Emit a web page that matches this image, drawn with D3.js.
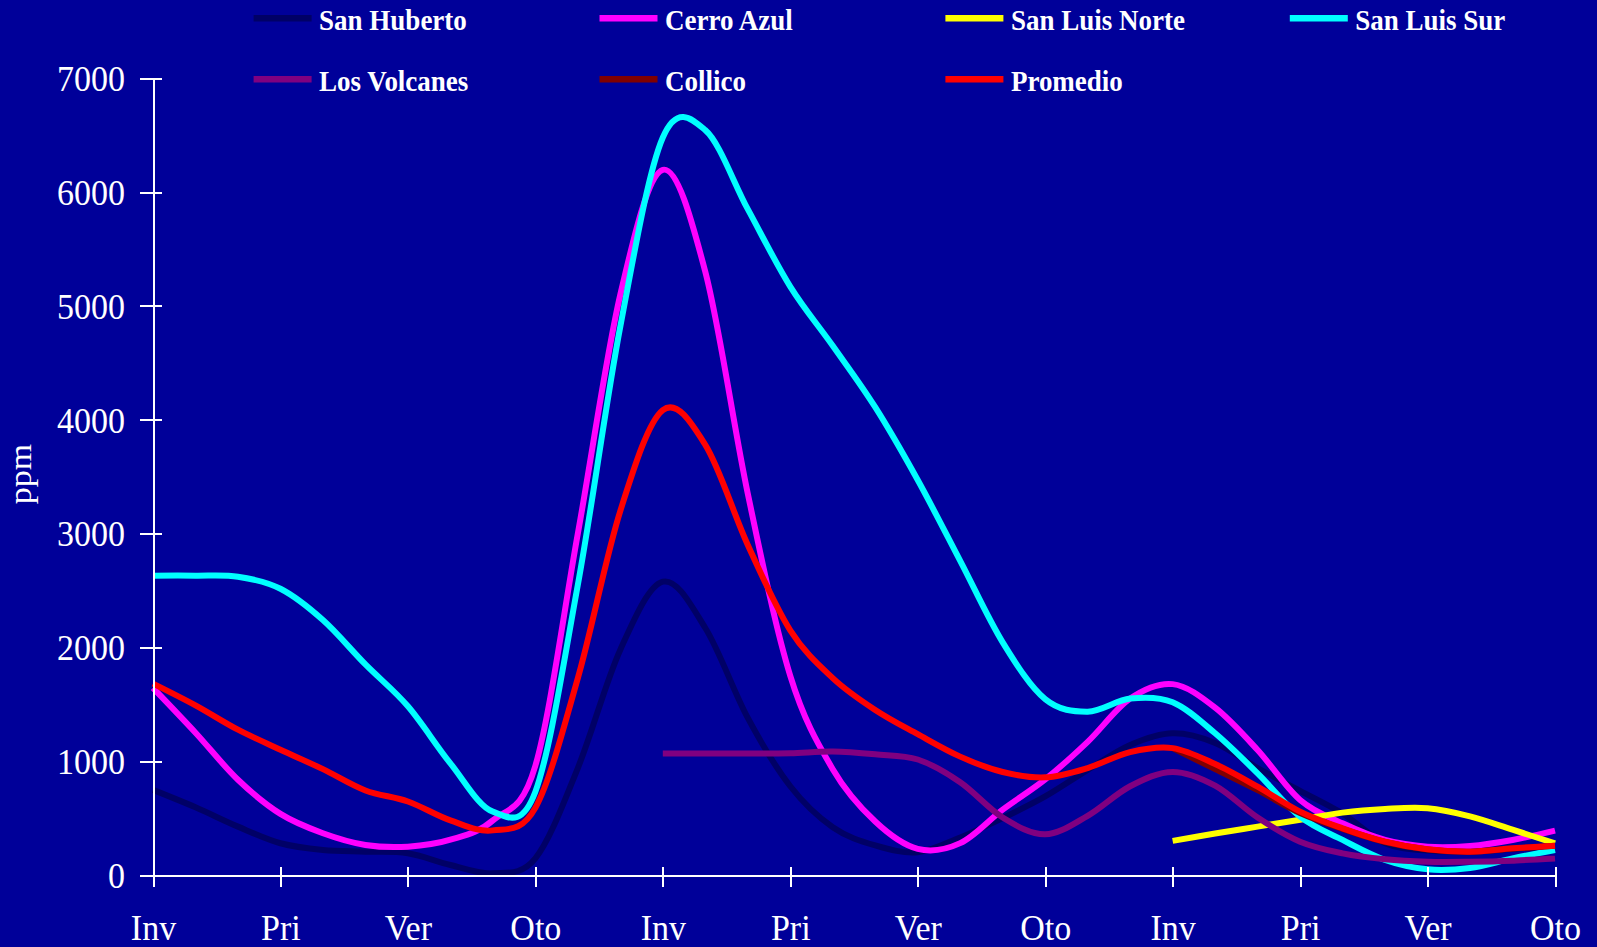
<!DOCTYPE html>
<html>
<head>
<meta charset="utf-8">
<script src="https://cdn.jsdelivr.net/npm/d3@7"></script>
<style>
  html, body { margin: 0; padding: 0; background: #000099; }
  svg { display: block; }
</style>
</head>
<body>
<svg id="chart" width="1597" height="947"></svg>
<script>
// Seasonal labels along the time axis (one every three months)
const seasonLabels = ["Inv", "Pri", "Ver", "Oto", "Inv", "Pri", "Ver", "Oto", "Inv", "Pri", "Ver", "Oto"];

// Month index of every sample (month 0 = first winter)
const months = [0, 1, 2, 3, 4, 5, 6, 7, 8, 9, 10, 11, 12, 13, 14, 15, 16,
                17, 18, 19, 20, 21, 22, 23, 24, 25, 26, 27, 28, 29, 30, 31, 32, 33];

// Concentrations in ppm, one value per month (null = no sampling)
const sanHuberto = [748, 595, 425, 279, 220, 205, 191, 88, 15, 146,
                    940, 1980, 2577, 2170, 1380, 780, 420, 260, 200, 330,
                    500, 690, 923, 1142, 1245, 1160, 940, 740, 540, 280,
                    215, 210, 230, 250];

const cerroAzul = [1644, 1250, 837, 537, 367, 264, 249, 310, 480, 960,
                   3000, 5100, 6196, 5300, 3350, 1750, 930, 470, 230, 280,
                   575, 840, 1170, 1550, 1677, 1470, 1098, 659, 454, 308,
                   249, 255, 308, 390];

const sanLuisNorte = [null, null, null, null, null, null, null, null, null, null,
                      null, null, null, null, null, null, null, null, null, null,
                      null, null, null, null, 300, 365, 425, 485, 548, 580,
                      586, 515, 398, 278];

const sanLuisSur = [2630, 2630, 2621, 2515, 2240, 1850, 1482, 981, 556, 732,
                    2550, 4820, 6480, 6545, 5850, 5170, 4650, 4110, 3470, 2760,
                    2044, 1545, 1435, 1550, 1518, 1245, 893, 513, 308, 132,
                    50, 62, 146, 220];

const losVolcanes = [null, null, null, null, null, null, null, null, null, null,
                     null, null, 1067, 1067, 1067, 1070, 1085, 1060, 1015, 815,
                     505, 357, 520, 780, 906, 785, 505, 293, 190, 138,
                     117, 117, 126, 146];

const collico = [null, null, null, null, null, null, null, null, null, null,
                 null, null, null, null, null, null, null, null, null, null,
                 null, null, null, null, 1115, 930, 745, 545, 405, 290,
                 224, 204, 232, 256];

const promedio = [1682, 1491, 1277, 1101, 930, 743, 646, 480, 392, 590,
                  1730, 3200, 4085, 3780, 2900, 2150, 1730, 1450, 1237, 1040,
                  905, 858, 940, 1080, 1115, 975, 776, 557, 410, 293,
                  226, 205, 234, 258];

const yTicks = [0, 1000, 2000, 3000, 4000, 5000, 6000, 7000];

// Series in drawing order
const series = [
  { name: "San Huberto",    values: sanHuberto },
  { name: "Cerro Azul",     values: cerroAzul },
  { name: "San Luis Norte", values: sanLuisNorte },
  { name: "San Luis Sur",   values: sanLuisSur },
  { name: "Los Volcanes",   values: losVolcanes },
  { name: "Collico",        values: collico },
  { name: "Promedio",       values: promedio }
];

// ---- styling ----
const colors = {
  "San Huberto": "#000066",
  "Cerro Azul": "#ff00ff",
  "San Luis Norte": "#ffff00",
  "San Luis Sur": "#00ffff",
  "Los Volcanes": "#800080",
  "Collico": "#800000",
  "Promedio": "#ff0000"
};
const serif = "'Liberation Serif', 'Times New Roman', serif";
const stretch = 1.06;   // text is drawn slightly taller than wide

const svg = d3.select("#chart");
svg.append("rect").attr("width", 1597).attr("height", 947).attr("fill", "#000099");

const x = d3.scaleLinear().domain([0, 33]).range([153, 1555]);
const y = d3.scaleLinear().domain([0, 7000]).range([875, 78.3]);

// ---- series lines ----
const line = d3.line()
  .defined(d => d.v !== null)
  .x(d => x(d.m))
  .y(d => y(d.v))
  .curve(d3.curveCardinal.tension(0));

const lines = svg.append("g");
series.forEach(s => {
  const pts = months.map((m, i) => ({ m: m, v: s.values[i] }));
  lines.append("path")
    .attr("d", line(pts))
    .attr("fill", "none")
    .attr("stroke", colors[s.name])
    .attr("stroke-width", 6)
    .attr("stroke-linejoin", "round")
    .attr("stroke-linecap", "butt");
});

// ---- axes ----
const yAxis = d3.axisLeft(y).tickValues(yTicks).tickFormat(d3.format("d"))
  .tickSizeInner(13).tickSizeOuter(0);
const gy = svg.append("g").attr("transform", "translate(153,0)").call(yAxis);
gy.select(".domain").attr("stroke", "#fff").attr("stroke-width", 2);
gy.selectAll(".tick line").attr("stroke", "#fff").attr("stroke-width", 2).attr("x1", 9);
gy.selectAll(".tick text")
  .attr("x", 0).attr("y", 0).attr("dy", null)
  .attr("transform", `translate(-28,12.3) scale(1,${stretch})`)
  .attr("fill", "#fff")
  .style("font-family", serif).style("font-size", "34px")
  .attr("text-anchor", "end");

const xAxis = d3.axisBottom(x).tickValues(d3.range(0, 34, 3))
  .tickFormat((d, i) => seasonLabels[i]).tickSizeInner(12).tickSizeOuter(0);
const gx = svg.append("g").attr("transform", "translate(0,875)").call(xAxis);
gx.select(".domain").attr("stroke", "#fff").attr("stroke-width", 2);
gx.selectAll(".tick line").attr("stroke", "#fff").attr("stroke-width", 2).attr("y1", -8);
gx.selectAll(".tick text")
  .attr("x", 0).attr("y", 0).attr("dy", null)
  .attr("transform", `translate(0,65) scale(1,${stretch})`)
  .attr("fill", "#fff")
  .style("font-family", serif).style("font-size", "34px")
  .attr("text-anchor", "middle");
svg.selectAll(".domain, .tick line").attr("shape-rendering", "crispEdges");

// ---- y-axis title ----
svg.append("text")
  .attr("transform", `translate(31,474) rotate(-90) scale(${stretch},1)`)
  .attr("text-anchor", "middle")
  .attr("fill", "#fff")
  .style("font-family", serif).style("font-size", "32px")
  .text("ppm");

// ---- legend ----
const legendCols = [253.6, 599.5, 945.4, 1289.8];
const legendRows = [18.3, 79.3];
const legend = svg.append("g");
series.forEach((s, i) => {
  const cx = legendCols[i % 4];
  const cy = legendRows[Math.floor(i / 4)];
  legend.append("line")
    .attr("x1", cx).attr("x2", cx + 58)
    .attr("y1", cy).attr("y2", cy)
    .attr("stroke", colors[s.name]).attr("stroke-width", 6.5);
  legend.append("text")
    .attr("transform", `translate(${cx + 65.5},${cy + 11.7}) scale(1,${stretch})`)
    .attr("fill", "#fff")
    .style("font-family", serif).style("font-size", "27px").style("font-weight", "bold")
    .text(s.name);
});
</script>
</body>
</html>
